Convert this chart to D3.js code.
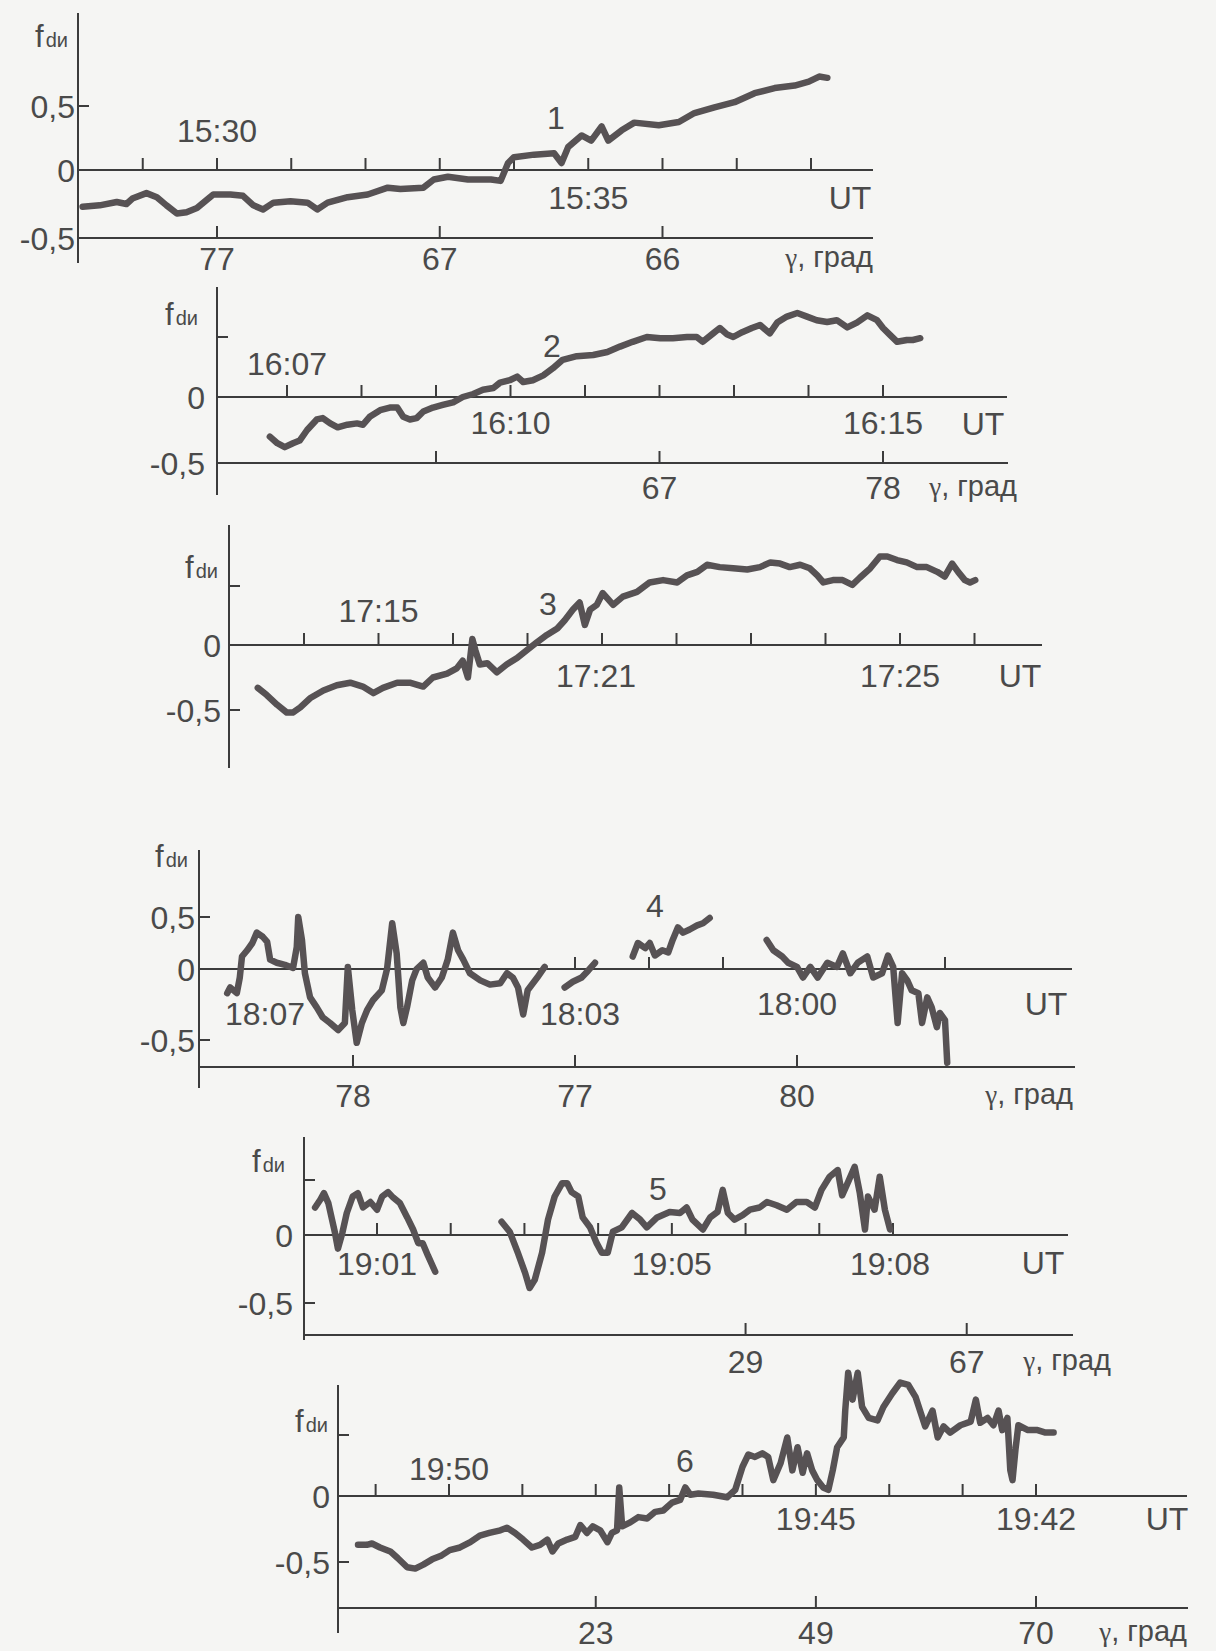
<!DOCTYPE html>
<html><head><meta charset="utf-8">
<script src="https://cdn.jsdelivr.net/npm/d3@7"></script>
<style>
html,body{margin:0;padding:0;background:#f5f5f3;}
svg{display:block;}
text{font-family:"Liberation Sans",Arial,sans-serif;fill:#4a4a4a;}
</style></head><body>
<svg id="chart" width="1216" height="1651"></svg>
<script>
// ---------- DATA (x: UT minutes after the hour, y: f_dи) ----------
const series1 = [[[28.19,-0.27],[28.42,-0.26],[28.65,-0.235],[28.78,-0.25],[28.86,-0.21],[29.05,-0.17],[29.19,-0.2],[29.32,-0.26],[29.46,-0.32],[29.59,-0.31],[29.73,-0.28],[29.86,-0.22],[29.95,-0.18],[30.18,-0.18],[30.35,-0.19],[30.49,-0.26],[30.62,-0.29],[30.76,-0.24],[30.99,-0.23],[31.22,-0.24],[31.35,-0.29],[31.49,-0.24],[31.76,-0.2],[32.03,-0.18],[32.30,-0.13],[32.47,-0.14],[32.78,-0.13],[32.92,-0.07],[33.11,-0.05],[33.38,-0.07],[33.69,-0.07],[33.82,-0.08],[33.92,0.055],[34.00,0.10],[34.27,0.12],[34.54,0.13],[34.64,0.055],[34.73,0.18],[34.91,0.27],[35.04,0.23],[35.18,0.34],[35.27,0.23],[35.45,0.31],[35.62,0.37],[35.95,0.35],[36.22,0.375],[36.43,0.445],[36.70,0.49],[36.97,0.53],[37.24,0.60],[37.51,0.64],[37.78,0.66],[37.97,0.69],[38.11,0.73],[38.22,0.72]]];

const series2 = [[[6.77,-0.30],[6.87,-0.35],[6.97,-0.38],[7.08,-0.35],[7.17,-0.33],[7.27,-0.25],[7.40,-0.17],[7.48,-0.16],[7.58,-0.2],[7.68,-0.23],[7.81,-0.21],[7.94,-0.2],[8.02,-0.21],[8.11,-0.15],[8.25,-0.1],[8.38,-0.08],[8.48,-0.08],[8.56,-0.15],[8.65,-0.17],[8.74,-0.16],[8.83,-0.11],[8.96,-0.08],[9.09,-0.06],[9.23,-0.04],[9.36,0],[9.50,0.025],[9.63,0.06],[9.77,0.075],[9.86,0.12],[9.99,0.14],[10.09,0.17],[10.17,0.125],[10.30,0.14],[10.44,0.18],[10.57,0.24],[10.70,0.31],[10.89,0.34],[11.11,0.35],[11.30,0.375],[11.47,0.42],[11.64,0.46],[11.83,0.5],[12.01,0.49],[12.18,0.49],[12.37,0.5],[12.50,0.5],[12.58,0.46],[12.72,0.53],[12.81,0.575],[12.91,0.52],[12.99,0.5],[13.11,0.54],[13.24,0.575],[13.35,0.6],[13.48,0.53],[13.58,0.62],[13.71,0.67],[13.85,0.70],[13.98,0.67],[14.11,0.64],[14.25,0.625],[14.38,0.64],[14.52,0.58],[14.65,0.62],[14.79,0.68],[14.92,0.64],[15.00,0.575],[15.09,0.52],[15.19,0.46],[15.32,0.475],[15.40,0.475],[15.50,0.49]]];

const series3 = [[[16.38,-0.33],[16.50,-0.385],[16.64,-0.46],[16.77,-0.52],[16.85,-0.52],[16.95,-0.48],[17.08,-0.41],[17.26,-0.35],[17.44,-0.31],[17.62,-0.29],[17.79,-0.32],[17.93,-0.37],[18.06,-0.33],[18.25,-0.29],[18.42,-0.29],[18.60,-0.32],[18.73,-0.25],[18.92,-0.22],[19.05,-0.18],[19.13,-0.12],[19.20,-0.25],[19.26,0.05],[19.30,-0.04],[19.36,-0.15],[19.46,-0.14],[19.59,-0.21],[19.72,-0.15],[19.86,-0.1],[19.99,-0.04],[20.13,0.025],[20.26,0.085],[20.40,0.14],[20.50,0.21],[20.61,0.30],[20.70,0.36],[20.77,0.17],[20.84,0.30],[20.93,0.34],[21.01,0.44],[21.15,0.34],[21.28,0.41],[21.47,0.45],[21.64,0.53],[21.82,0.55],[22.01,0.53],[22.14,0.59],[22.28,0.62],[22.41,0.68],[22.58,0.66],[22.76,0.65],[22.95,0.64],[23.12,0.66],[23.26,0.70],[23.39,0.69],[23.52,0.66],[23.66,0.68],[23.79,0.65],[23.89,0.59],[23.97,0.53],[24.10,0.55],[24.23,0.55],[24.36,0.51],[24.46,0.57],[24.60,0.65],[24.73,0.75],[24.83,0.75],[24.96,0.72],[25.09,0.70],[25.23,0.66],[25.36,0.66],[25.50,0.62],[25.60,0.58],[25.70,0.69],[25.78,0.62],[25.87,0.55],[25.94,0.53],[26.01,0.55]]];

const series4 = [
 [[7.70,-0.17],[7.66,-0.13],[7.57,-0.17],[7.53,-0.06],[7.50,0.12],[7.43,0.18],[7.36,0.25],[7.30,0.35],[7.22,0.31],[7.16,0.26],[7.12,0.09],[7.03,0.06],[6.92,0.04],[6.81,0.01],[6.76,0.21],[6.74,0.50],[6.69,0.28],[6.65,-0.03],[6.58,-0.2],[6.49,-0.27],[6.41,-0.34],[6.31,-0.38],[6.20,-0.43],[6.11,-0.38],[6.07,0.02],[6.01,-0.29],[5.95,-0.52],[5.88,-0.38],[5.81,-0.29],[5.73,-0.22],[5.61,-0.15],[5.54,0],[5.47,0.44],[5.41,0.15],[5.36,-0.27],[5.32,-0.38],[5.27,-0.27],[5.20,-0.08],[5.14,0],[5.05,0.06],[4.99,-0.06],[4.89,-0.13],[4.80,-0.06],[4.72,0.09],[4.65,0.35],[4.58,0.18],[4.51,0.09],[4.42,-0.03],[4.28,-0.08],[4.15,-0.11],[4.01,-0.1],[3.92,-0.03],[3.84,-0.06],[3.77,-0.13],[3.70,-0.32],[3.64,-0.15],[3.51,-0.06],[3.41,0.02]],
 [[3.14,-0.13],[3.03,-0.09],[2.91,-0.06],[2.82,-0.01],[2.73,0.06]],
 [[2.22,0.12],[2.15,0.25],[2.05,0.2],[1.99,0.25],[1.92,0.13],[1.82,0.18],[1.74,0.16],[1.68,0.28],[1.61,0.40],[1.54,0.35],[1.45,0.38],[1.35,0.42],[1.27,0.44],[1.18,0.49]],
 [[0.41,0.28],[0.32,0.18],[0.20,0.12],[0.12,0.06],[0,0.02],[-0.08,-0.06],[-0.18,0.02],[-0.28,-0.06],[-0.41,0.06],[-0.54,0.02],[-0.62,0.15],[-0.72,-0.03],[-0.82,0.06],[-0.95,0.12],[-1.03,-0.06],[-1.15,-0.03],[-1.23,0.13],[-1.30,0.02],[-1.36,-0.38],[-1.42,-0.03],[-1.49,-0.08],[-1.55,-0.15],[-1.64,-0.17],[-1.69,-0.38],[-1.76,-0.2],[-1.82,-0.27],[-1.89,-0.41],[-1.93,-0.31],[-2.00,-0.36],[-2.03,-0.66]]
];

const series5 = [
 [[0.16,0.25],[0.23,0.32],[0.28,0.38],[0.34,0.29],[0.39,0.14],[0.43,0.02],[0.47,-0.1],[0.53,0.02],[0.59,0.2],[0.67,0.35],[0.74,0.38],[0.81,0.25],[0.91,0.3],[1.00,0.23],[1.07,0.35],[1.15,0.39],[1.22,0.34],[1.31,0.29],[1.41,0.16],[1.49,0.05],[1.56,-0.06],[1.62,-0.06],[1.69,-0.15],[1.79,-0.27]],
 [[2.69,0.12],[2.80,0.03],[2.91,-0.13],[3.01,-0.28],[3.07,-0.39],[3.14,-0.33],[3.24,-0.13],[3.32,0.14],[3.41,0.35],[3.51,0.47],[3.58,0.47],[3.64,0.39],[3.73,0.35],[3.79,0.16],[3.89,0.07],[3.98,-0.06],[4.05,-0.13],[4.13,-0.13],[4.20,0.03],[4.32,0.07],[4.46,0.2],[4.57,0.14],[4.66,0.07],[4.80,0.16],[4.97,0.21],[5.11,0.2],[5.20,0.25],[5.28,0.14],[5.42,0.05],[5.52,0.16],[5.62,0.21],[5.69,0.41],[5.76,0.2],[5.85,0.14],[5.96,0.18],[6.06,0.23],[6.19,0.25],[6.29,0.3],[6.42,0.27],[6.56,0.23],[6.69,0.3],[6.83,0.3],[6.94,0.25],[7.03,0.41],[7.14,0.53],[7.25,0.59],[7.31,0.36],[7.39,0.48],[7.48,0.62],[7.55,0.38],[7.62,0.05],[7.66,0.35],[7.75,0.23],[7.82,0.53],[7.89,0.23],[7.96,0.05]]
];

const series6 = [[[51.24,-0.37],[51.12,-0.37],[51.05,-0.36],[50.94,-0.39],[50.80,-0.42],[50.70,-0.47],[50.57,-0.54],[50.46,-0.55],[50.35,-0.52],[50.23,-0.48],[50.10,-0.45],[49.99,-0.41],[49.85,-0.39],[49.71,-0.35],[49.58,-0.30],[49.45,-0.28],[49.30,-0.26],[49.21,-0.24],[49.10,-0.28],[48.99,-0.33],[48.87,-0.39],[48.76,-0.37],[48.66,-0.33],[48.59,-0.42],[48.51,-0.36],[48.39,-0.33],[48.28,-0.31],[48.21,-0.22],[48.12,-0.28],[48.04,-0.23],[47.94,-0.26],[47.84,-0.35],[47.78,-0.28],[47.71,-0.26],[47.68,0.07],[47.64,-0.23],[47.53,-0.2],[47.42,-0.16],[47.30,-0.17],[47.19,-0.12],[47.08,-0.11],[46.96,-0.05],[46.85,-0.03],[46.78,0.07],[46.71,0.01],[46.60,0.02],[46.40,0.01],[46.21,-0.01],[46.10,0.05],[46.00,0.24],[45.92,0.34],[45.83,0.32],[45.73,0.35],[45.65,0.32],[45.58,0.13],[45.48,0.27],[45.39,0.48],[45.32,0.21],[45.25,0.40],[45.18,0.19],[45.12,0.35],[45.05,0.21],[44.98,0.13],[44.90,0.07],[44.83,0.05],[44.77,0.21],[44.71,0.40],[44.62,0.48],[44.60,0.70],[44.56,1.01],[44.50,0.79],[44.43,1.01],[44.37,0.73],[44.28,0.64],[44.16,0.62],[44.08,0.73],[43.96,0.84],[43.85,0.93],[43.74,0.91],[43.64,0.81],[43.57,0.68],[43.51,0.57],[43.41,0.70],[43.34,0.48],[43.26,0.57],[43.17,0.52],[43.03,0.58],[42.89,0.61],[42.82,0.79],[42.76,0.60],[42.66,0.64],[42.58,0.58],[42.51,0.70],[42.46,0.54],[42.39,0.64],[42.35,0.21],[42.32,0.13],[42.28,0.38],[42.24,0.58],[42.11,0.54],[41.98,0.54],[41.87,0.52],[41.76,0.52]]];

// UT ticks (minutes after the hour) and labels
const utTicks1 = [29,30,31,32,33,34,35,36,37,38];
const utTicks2 = [7,8,9,10,11,12,13,14,15];
const utTicks3 = [17,18,19,20,21,22,23,24,25,26];
const utTicks4 = [3,2,1,-2];
const utTicks5 = [1,2,3,4,5,6,7,8];
const utTicks6 = [51,50,49,48,47,46,45,44,43,42];

const utLabels1 = [[30,"15:30","above"],[35,"15:35","below"]];
const utLabels2 = [[7,"16:07","above"],[10,"16:10","below"],[15,"16:15","below"]];
const utLabels3 = [[18,"17:15","above"],[21,"17:21","below"],[25,"17:25","below"]];
const utLabels4 = [[7,"18:07","below"],[3,"18:03","below"],[0,"18:00","below"]];
const utLabels5 = [[1,"19:01","below"],[5,"19:05","below"],[8,"19:08","below"]];
const utLabels6 = [[50,"19:50","above"],[45,"19:45","below"],[42,"19:42","below"]];

// γ (degrees) ticks, placed at UT minute
const gammaTicks1 = [[30,"77"],[33,"67"],[36,"66"]];
const gammaTicks2 = [[9,""],[12,"67"],[15,"78"]];
const gammaTicks3 = [];
const gammaTicks4 = [[6,"78"],[3,"77"],[0,"80"]];
const gammaTicks5 = [[6,"29"],[9,"67"]];
const gammaTicks6 = [[48,"23"],[45,"49"],[42,"70"]];

const curveNames = ["1","2","3","4","5","6"];

// ---------- LAYOUT ----------
const layout = [
 {axisX:78, top:13, bottom:263, y0:170, yP:106, yN:238, zeroEnd:873, gammaY:238, gammaEnd:873,
  xDom:[30,38], xRng:[217,811], labP:true, tickN:false, yLabX:75, aboveDy:40, belowDy:27, utX:850, utDy:27,
  gLabDy:20, gTextX:873, num:[556,117], f:[35,47], shift:{}},
 {axisX:217, top:287, bottom:495, y0:397, yP:337, yN:463, zeroEnd:1007, gammaY:463, gammaEnd:1008,
  xDom:[7,15], xRng:[287,883], labP:false, tickN:false, yLabX:205, aboveDy:34, belowDy:25, utX:983, utDy:26,
  gLabDy:24, gTextX:1017, num:[552,345], f:[165,325], shift:{}},
 {axisX:229, top:525, bottom:768, y0:645, yP:586, yN:710, zeroEnd:1042, gammaY:null,
  xDom:[21,25], xRng:[602,900], labP:false, tickN:true, yLabX:221, aboveDy:35, belowDy:30, utX:1020, utDy:30,
  gLabDy:0, gTextX:0, num:[548,603], f:[185,578], shift:{"17:21":[-6,0]}},
 {axisX:199, top:850, bottom:1088, y0:969, yP:917, yN:1040, zeroEnd:1072, gammaY:1067, gammaEnd:1075,
  xDom:[3,0], xRng:[575,797], labP:true, tickN:true, yLabX:195, aboveDy:35, belowDy:44, utX:1046, utDy:34,
  gLabDy:28, gTextX:1073, num:[655,905], f:[155,867], shift:{"18:07":[-14,0],"18:03":[5,0],"18:00":[0,-10]}},
 {axisX:304, top:1137, bottom:1340, y0:1235, yP:1180, yN:1303, zeroEnd:1068, gammaY:1335, gammaEnd:1073,
  xDom:[1,8], xRng:[377,893], labP:false, tickN:true, yLabX:293, aboveDy:35, belowDy:28, utX:1043, utDy:27,
  gLabDy:26, gTextX:1111, num:[658,1188], f:[252,1172], shift:{"19:08":[-3,0]}},
 {axisX:338, top:1385, bottom:1633, y0:1496, yP:1435, yN:1562, zeroEnd:1187, gammaY:1608, gammaEnd:1188,
  xDom:[50,42], xRng:[449,1036], labP:false, tickN:true, yLabX:330, aboveDy:28, belowDy:22, utX:1167, utDy:22,
  gLabDy:24, gTextX:1187, num:[685,1460], f:[295,1432], shift:{}}
];

const allSeries = [series1,series2,series3,series4,series5,series6];
const allUtTicks = [utTicks1,utTicks2,utTicks3,utTicks4,utTicks5,utTicks6];
const allUtLabels = [utLabels1,utLabels2,utLabels3,utLabels4,utLabels5,utLabels6];
const allGamma = [gammaTicks1,gammaTicks2,gammaTicks3,gammaTicks4,gammaTicks5,gammaTicks6];

const AX = "#3c3c3c", LINE = "#575254", FS = 32;
const svg = d3.select("#chart");
svg.append("rect").attr("width",1216).attr("height",1651).attr("fill","#f5f5f3");

layout.forEach((L, i) => {
  const g = svg.append("g");
  const x = d3.scaleLinear().domain(L.xDom).range(L.xRng);
  const y = d3.scaleLinear().domain([-0.5,0,0.5]).range([L.yN, L.y0, L.yP]);

  // y axis
  g.append("line").attr("x1",L.axisX).attr("x2",L.axisX).attr("y1",L.top).attr("y2",L.bottom)
    .attr("stroke",AX).attr("stroke-width",2);
  g.append("line").attr("x1",L.axisX).attr("x2",L.axisX+11).attr("y1",y(0.5)).attr("y2",y(0.5))
    .attr("stroke",AX).attr("stroke-width",2);
  if (L.tickN) g.append("line").attr("x1",L.axisX).attr("x2",L.axisX+11).attr("y1",y(-0.5)).attr("y2",y(-0.5))
    .attr("stroke",AX).attr("stroke-width",2);
  const yl = [[0,"0"],[-0.5,"-0,5"]];
  if (L.labP) yl.unshift([0.5,"0,5"]);
  g.selectAll("text.yl").data(yl).join("text").attr("class","yl")
    .attr("x",L.yLabX).attr("y",d=>y(d[0])).attr("dy","0.36em")
    .attr("text-anchor","end").attr("font-size",FS).text(d=>d[1]);

  // zero (UT) line
  g.append("line").attr("x1",L.axisX).attr("x2",L.zeroEnd).attr("y1",y(0)).attr("y2",y(0))
    .attr("stroke",AX).attr("stroke-width",2);
  g.selectAll("line.ut").data(allUtTicks[i]).join("line").attr("class","ut")
    .attr("x1",d=>x(d)).attr("x2",d=>x(d)).attr("y1",y(0)).attr("y2",y(0)-12)
    .attr("stroke",AX).attr("stroke-width",2);
  g.selectAll("text.utl").data(allUtLabels[i]).join("text").attr("class","utl")
    .attr("x",d=>x(d[0]) + ((L.shift[d[1]]||[0,0])[0]))
    .attr("y",d=>y(0) + (d[2]==="above" ? -L.aboveDy : L.belowDy) + ((L.shift[d[1]]||[0,0])[1]))
    .attr("dy","0.36em").attr("text-anchor","middle").attr("font-size",FS).text(d=>d[1]);
  g.append("text").attr("x",L.utX).attr("y",y(0)+L.utDy).attr("dy","0.36em")
    .attr("text-anchor","middle").attr("font-size",FS).text("UT");

  // γ axis
  if (L.gammaY !== null) {
    g.append("line").attr("x1",L.axisX).attr("x2",L.gammaEnd).attr("y1",L.gammaY).attr("y2",L.gammaY)
      .attr("stroke",AX).attr("stroke-width",2);
    g.selectAll("line.gt").data(allGamma[i]).join("line").attr("class","gt")
      .attr("x1",d=>x(d[0])).attr("x2",d=>x(d[0])).attr("y1",L.gammaY).attr("y2",L.gammaY-12)
      .attr("stroke",AX).attr("stroke-width",2);
    g.selectAll("text.gl").data(allGamma[i]).join("text").attr("class","gl")
      .attr("x",d=>x(d[0])).attr("y",L.gammaY+L.gLabDy).attr("dy","0.36em")
      .attr("text-anchor","middle").attr("font-size",FS).text(d=>d[1]);
    const gt = g.append("text").attr("x",L.gTextX).attr("y",L.gammaY+L.gLabDy).attr("dy","0.3em")
      .attr("text-anchor","end").attr("font-size",29);
    gt.append("tspan").attr("font-family","Liberation Serif, serif").attr("font-size",27).text("γ");
    gt.append("tspan").text(", град");
  }

  // f_dи label
  const ft = g.append("text").attr("x",L.f[0]).attr("y",L.f[1]);
  ft.append("tspan").attr("font-size",31).text("f");
  ft.append("tspan").attr("font-size",20).attr("dx",2).text("dи");

  // curve number
  g.append("text").attr("x",L.num[0]).attr("y",L.num[1]).attr("dy","0.36em")
    .attr("text-anchor","middle").attr("font-size",FS).text(curveNames[i]);

  // data line(s)
  const line = d3.line().x(d=>x(d[0])).y(d=>y(d[1]));
  g.selectAll("path.s").data(allSeries[i]).join("path").attr("class","s")
    .attr("d",line).attr("fill","none").attr("stroke",LINE).attr("stroke-width",6.5)
    .attr("stroke-linejoin","round").attr("stroke-linecap","round");
});
</script>
</body></html>
